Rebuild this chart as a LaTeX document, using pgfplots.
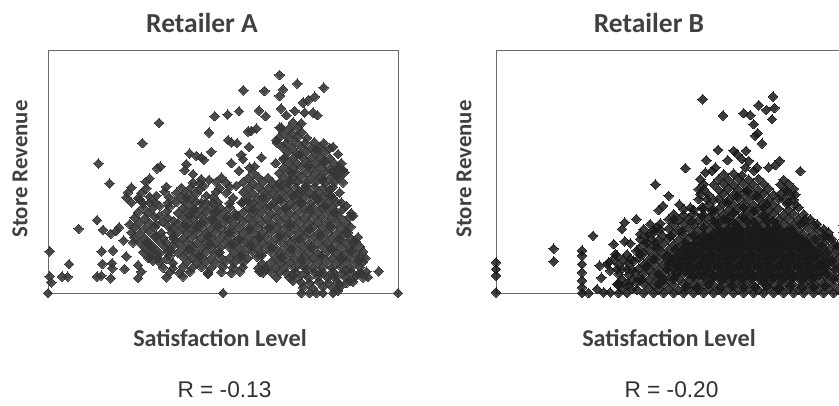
\documentclass[border=0pt]{standalone}
\usepackage{pgfplots}
\pgfplotsset{compat=1.18}
\usepackage{fontspec}
\setmainfont{Carlito}
\newfontfamily\rfont{Liberation Sans}
\definecolor{txt}{HTML}{404040}
\definecolor{rtxt}{HTML}{303030}
\definecolor{spine}{HTML}{6A6A6A}
\definecolor{dot}{HTML}{1A1818}
\definecolor{dotA}{HTML}{363636}
\pgfplotsset{
 panel/.style={scale only axis,width=350pt,height=243pt,xtick=\empty,ytick=\empty,
  y dir=reverse,ymin=32,ymax=762,clip=false,axis line style={draw=spine,line width=1pt}},
 pts/.style={only marks,mark=square*,mark size=3.35pt,
  mark options={rotate=45,fill=dot,draw=dot,line width=0pt,opacity=0.85}},
 ptsA/.style={only marks,mark=square*,mark size=3.35pt,
  mark options={rotate=45,fill=dotA,draw=dotA,line width=0pt,opacity=0.9}}
}
\begin{document}
\begin{tikzpicture}[x=1pt,y=1pt]
\path[use as bounding box,clip] (0,0) rectangle (839,405);
\node[font=\bfseries\fontsize{27.5}{31}\selectfont,text=txt] at (202,382) {Retailer A};
\node[font=\bfseries\fontsize{27.5}{31}\selectfont,text=txt] at (649,382) {Retailer B};
\node[font=\bfseries\fontsize{22.8}{26}\selectfont,text=txt,rotate=90] at (20,236) {Store Revenue};
\node[font=\bfseries\fontsize{22.8}{26}\selectfont,text=txt,rotate=90] at (464,236) {Store Revenue};
\node[font=\bfseries\fontsize{24.2}{27}\selectfont,text=txt] at (220,67) {Satisfaction Level};
\node[font=\bfseries\fontsize{24.2}{27}\selectfont,text=txt] at (669,67) {Satisfaction Level};
\node[font=\rfont\fontsize{22.7}{26}\selectfont,text=rtxt] at (224.5,15) {R = -0.13};
\node[font=\rfont\fontsize{22.7}{26}\selectfont,text=rtxt] at (671.5,15) {R = -0.20};

\begin{axis}[panel,at={(48pt,112pt)},anchor=south west,xmin=145,xmax=1195]
\addplot[ptsA] coordinates {
(145,762)(670,762)(1195,762)(905,762)(930,762)(950,762)(970,762)(1000,762)(1015,755)
(150,637)(150,712)(155,730)(187,713)(204,713)(208,675)(237,569)(292,543)(296,373)(330,433)(428,312)(478,251)
(292,713)(305,710)(333,718)(306,637)(340,635)(308,675)(337,672)(338,688)(375,690)(380,652)(372,604)(310,572)(333,584)(350,575)(358,565)
(415,717)(425,698)(415,678)(431,640)(450,655)(460,665)
(840,107)(893,133)(972,145)(731,153)(794,155)(850,150)(840,170)(910,190)(925,183)(945,172)
(645,231)(684,226)(718,216)(778,214)(798,231)(844,208)(860,228)(885,215)(915,220)(940,220)(953,228)
(628,280)(745,277)(770,268)(755,275)(840,265)(685,303)(695,310)(712,312)(748,323)(830,303)
(635,338)(725,347)(570,343)(590,350)(605,355)(612,362)(785,355)(730,360)(560,375)(695,372)(828,372)(472,388)(482,382)(765,382)(750,385)(718,395)(555,393)(1000,323)(1030,392)(1012,410)(1020,385)
(580,405)(605,420)(628,422)(450,418)(438,428)
(880,250)(905,252)
(845,265)(868,268)(895,265)
(850,280)(878,282)(906,279)
(838,295)(866,297)(894,293)(922,296)
(832,310)(860,312)(888,308)(916,311)(944,309)(972,312)
(850,325)(878,327)(906,323)(934,326)(962,324)(990,327)
(864,340)(892,342)(920,338)(948,341)(976,339)
(855,355)(880,357)(906,353)(934,356)(962,354)(990,357)
(866,370)(892,372)(920,368)(948,371)(976,369)(1004,372)
(852,385)(880,387)(906,383)(934,386)(962,384)(990,387)(1018,384)
(760,400)(838,402)(866,398)(892,401)(920,399)(948,402)(976,398)(1004,401)
(665,415)(745,417)(775,413)(805,416)(852,414)(880,417)(906,413)(934,416)(962,414)(990,417)(1018,414)
(580,430)(600,432)(650,428)(680,431)(730,429)(760,432)(790,428)(820,431)(840,429)(866,432)(892,428)(920,431)(948,429)(976,432)(1004,429)
(395,445)(440,447)(500,443)(545,446)(575,444)(660,447)(690,443)(745,446)(775,444)(805,447)(832,443)(860,446)(888,444)(916,447)(944,443)(972,446)(1000,444)
(385,460)(425,462)(495,458)(530,461)(560,459)(590,462)(650,458)(680,461)(730,459)(760,462)(790,458)(820,461)(846,459)(874,462)(902,458)(930,461)(958,459)(986,462)
(380,475)(415,477)(450,473)(510,476)(545,474)(575,477)(640,473)(700,476)(745,474)(775,477)(805,473)(832,476)(860,474)(888,477)(916,473)(944,476)(972,474)(1000,477)
(395,490)(430,492)(465,488)(505,491)(530,489)(560,492)(590,488)(620,491)(655,489)(690,492)(730,488)(760,491)(790,489)(820,492)(846,488)(874,491)(902,489)(930,492)(958,488)(986,491)(1012,489)
(430,505)(460,507)(510,503)(550,506)(578,504)(606,507)(634,503)(662,506)(690,504)(745,507)(773,503)(801,506)(829,504)(857,507)(885,503)(913,506)(941,504)(969,507)(997,503)
(415,520)(445,522)(500,518)(535,521)(563,519)(591,522)(619,518)(647,521)(675,519)(705,522)(731,518)(759,521)(787,519)(815,522)(843,518)(871,521)(899,519)(927,522)(955,518)(983,521)(1011,519)(1055,522)
(405,535)(435,537)(465,533)(505,536)(550,534)(578,537)(606,533)(634,536)(662,534)(690,537)(718,533)(745,536)(773,534)(801,537)(829,533)(857,536)(885,534)(913,537)(941,533)(969,536)(997,534)(1025,537)(1050,533)
(420,550)(450,552)(490,548)(535,551)(563,549)(591,552)(619,548)(647,551)(675,549)(703,552)(731,548)(759,551)(787,549)(815,552)(843,548)(871,551)(899,549)(927,552)(955,548)(983,551)(1011,549)(1039,552)
(405,565)(435,567)(465,563)(520,566)(550,564)(578,567)(606,563)(634,566)(662,564)(690,567)(718,563)(745,566)(773,564)(801,567)(829,563)(857,566)(885,564)(913,567)(941,563)(969,566)(997,564)(1025,567)(1053,563)
(395,580)(420,582)(450,578)(485,581)(535,579)(563,582)(591,578)(619,581)(647,579)(675,582)(703,578)(731,581)(759,579)(787,582)(815,578)(843,581)(871,579)(899,582)(927,578)(955,581)(983,579)(1011,582)(1039,578)
(405,595)(435,597)(465,593)(490,596)(520,594)(550,597)(578,593)(606,596)(634,594)(662,597)(690,593)(718,596)(745,594)(773,597)(801,593)(829,596)(857,594)(885,597)(913,593)(941,596)(969,594)(997,597)(1025,593)(1053,596)(1075,594)
(420,610)(450,612)(480,608)(535,611)(563,609)(591,612)(619,608)(647,611)(675,609)(703,612)(731,608)(759,611)(787,609)(815,612)(843,608)(871,611)(899,609)(927,612)(955,608)(983,611)(1011,609)(1039,612)(1067,608)
(435,625)(465,627)(495,623)(550,626)(578,624)(606,627)(634,623)(662,626)(690,624)(718,627)(745,623)(773,626)(801,624)(829,627)(857,623)(885,626)(913,624)(941,627)(969,623)(997,626)(1025,624)(1053,627)(1081,623)
(450,640)(480,642)(505,638)(535,641)(563,639)(591,642)(619,638)(647,641)(703,639)(731,642)(759,638)(787,641)(815,639)(843,642)(871,638)(899,641)(927,639)(955,642)(983,638)(1011,641)(1039,639)(1067,642)(1090,638)
(445,655)(475,657)(550,653)(578,656)(606,654)(634,657)(662,653)(690,656)(718,654)(745,657)(773,653)(829,656)(857,654)(885,657)(913,653)(941,656)(969,654)(997,657)(1025,653)(1053,656)(1081,654)(1097,657)
(480,670)(520,672)(563,668)(591,671)(619,669)(647,672)(675,668)(703,671)(731,669)(787,672)(815,668)(843,671)(871,669)(899,672)(927,668)(955,671)(983,669)(1011,672)(1039,668)(1067,671)(1090,669)
(490,685)(520,687)(550,683)(578,686)(606,684)(634,687)(670,683)(700,686)(730,684)(775,687)(801,683)(829,686)(857,684)(885,687)(913,683)(941,686)(969,684)(997,687)(1025,683)(1053,686)(1081,684)
(510,700)(540,702)(570,698)(625,701)(665,699)(695,702)(720,698)(790,701)(815,699)(860,702)(888,698)(916,701)(944,699)(972,702)(1000,698)(1028,701)(1056,699)(1084,702)(1100,698)(1137,697)
(500,715)(550,712)(625,705)(780,698)(830,715)(870,716)(899,713)(927,716)(955,712)(983,715)(1011,713)(1039,716)(1067,713)(1105,714)
(905,730)(930,732)(958,728)(986,731)(1014,729)(1040,732)(1060,728)
(910,745)(940,747)(970,743)(1000,746)(1020,744)
(1015,345)(1025,372)(1035,400)(1030,430)(1020,460)(1025,490)(1030,510)(1060,530)(1040,500)
(505,560)(515,580)(500,610)(515,635)(525,600)(522,545)(520,620)
(480,500)(470,470)(450,490)(420,480)(480,530)(470,555)(400,610)(390,555)(470,590)(455,625)(440,610)(470,645)(500,660)(510,650)
(612,440)(600,450)(620,470)(710,440)(725,490)(711,530)(640,490)(650,515)(605,490)(585,510)(560,475)(570,530)(606,550)(640,540)(680,535)
(745,485)(760,510)(790,475)(812,500)(840,480)(860,505)(880,470)(905,490)(930,510)(955,480)(975,500)(995,470)(1005,520)
(560,560)(590,565)(625,590)(655,560)(690,580)(720,600)(750,570)(780,595)(810,565)(840,590)(870,560)(900,600)(930,570)(960,590)(990,560)(1020,600)(1045,580)(1060,610)
(570,630)(600,650)(630,615)(660,640)(695,615)(725,650)(755,620)(785,650)(815,625)(845,655)(875,630)(905,660)(935,625)(965,650)(995,630)(1025,660)(1055,635)(1078,665)
(850,360)(875,400)(900,345)(925,380)(950,330)(975,365)(1000,395)(845,440)(870,425)(895,460)(920,440)(945,470)(970,420)(990,450)
(800,690)(840,700)(880,710)(920,690)(960,700)(1000,710)(1040,695)(1075,705)(1050,725)(1090,715)(880,725)(1020,735)
};
\end{axis}

\begin{axis}[panel,at={(496pt,112pt)},anchor=south west,xmin=167,xmax=1217]
\addplot[pts] coordinates {
(787,180)(998,172)(955,198)(978,212)(1002,206)(848,229)(910,222)(930,228)(995,240)(940,255)(952,282)(945,290)(965,313)
(833,332)(880,335)(917,335)(798,363)(862,363)(735,387)(825,385)(1080,396)(1018,365)(1005,378)(985,385)(950,385)
(890,345)(905,360)(925,365)(915,385)(940,395)(795,400)(815,395)
(645,436)(685,470)(717,496)(750,505)(668,500)(655,513)(588,540)(553,550)(545,570)(458,590)(340,629)(340,667)
(425,635)(425,650)(425,675)(425,700)(425,725)(425,745)(425,762)(167,670)(167,690)(167,710)(167,760)
(445,762)(470,750)(490,760)(510,760)(478,680)(483,716)(520,615)(553,607)(570,613)(600,585)(620,595)(588,635)(650,565)(640,605)(505,670)(530,650)(510,695)
(1210,560)(1210,580)(1210,600)(1210,620)(1210,640)(1210,660)(1210,680)(1210,700)(1210,720)(1210,740)(1210,760)
(850,405)(880,403)(905,408)
(780,420)(835,420)(865,422)(895,418)(925,421)(955,419)(1030,422)
(790,435)(820,437)(850,433)(880,436)(910,434)(940,437)(970,433)(1020,436)(1045,434)
(775,450)(835,452)(865,448)(895,451)(925,449)(955,452)(985,448)(1035,451)(1060,449)
(780,465)(805,467)(850,463)(880,466)(910,464)(940,467)(970,463)(1000,466)(1020,464)(1065,467)
(775,480)(820,482)(835,478)(865,481)(895,479)(925,482)(955,478)(985,481)(1015,479)(1060,482)
(805,495)(850,493)(880,496)(910,494)(940,497)(970,493)(1000,496)(1040,494)(1065,497)
(730,510)(760,512)(790,508)(820,511)(835,509)(865,512)(895,508)(925,511)(955,509)(985,512)(1015,508)(1045,511)
(700,525)(730,527)(760,523)(790,526)(820,524)(850,527)(880,523)(910,526)(940,524)(970,527)(1000,523)(1030,526)(1060,524)
(685,540)(715,542)(745,538)(775,541)(805,539)(835,542)(865,538)(895,541)(925,539)(955,542)(985,538)(1015,541)(1045,539)(1075,542)(1095,540)
(630,555)(660,553)(700,557)(730,553)(760,556)(790,554)(820,557)(850,553)(880,556)(910,554)(940,557)(970,553)(1000,556)(1030,554)(1060,557)(1090,553)(1120,556)(1150,570)
(610,570)(640,572)(685,568)(715,571)(745,569)(775,572)(805,568)(835,571)(865,569)(895,572)(925,568)(955,571)(985,569)(1015,572)(1045,568)(1075,571)(1105,569)(1135,572)(1165,580)
(625,585)(665,587)(700,583)(730,586)(760,584)(790,587)(820,583)(850,586)(880,584)(910,587)(940,583)(970,586)(1000,584)(1030,587)(1060,583)(1090,586)(1120,584)(1150,587)
(600,600)(655,602)(685,598)(715,601)(745,599)(775,602)(805,598)(835,601)(865,599)(895,602)(925,598)(955,601)(985,599)(1015,602)(1045,598)(1075,601)(1105,599)(1135,602)(1165,598)
(610,615)(640,617)(670,613)(700,616)(730,614)(760,617)(790,613)(820,616)(850,614)(880,617)(910,613)(940,616)(970,614)(1000,617)(1030,613)(1060,616)(1090,614)(1120,617)(1150,613)(1180,616)
(595,630)(625,632)(655,628)(685,631)(715,629)(745,632)(775,628)(805,631)(835,629)(865,632)(895,628)(925,631)(955,629)(985,632)(1015,628)(1045,631)(1075,629)(1105,632)(1135,628)(1165,631)(1190,629)
(525,645)(560,647)(610,643)(640,646)(670,644)(700,647)(730,643)(760,646)(790,644)(820,647)(850,643)(880,646)(910,644)(940,647)(970,643)(1000,646)(1030,644)(1060,647)(1090,643)(1120,646)(1150,644)(1180,647)
(520,660)(550,662)(595,658)(625,661)(655,659)(685,662)(715,658)(745,661)(775,659)(805,662)(835,658)(865,661)(895,659)(925,662)(955,658)(985,661)(1015,659)(1045,662)(1075,658)(1105,661)(1135,659)(1165,662)(1195,658)
(500,675)(535,677)(565,673)(610,676)(640,674)(670,677)(700,673)(730,676)(760,674)(790,677)(820,673)(850,676)(880,674)(910,677)(940,673)(970,676)(1000,674)(1030,677)(1060,673)(1090,676)(1120,674)(1150,677)(1180,673)
(545,690)(575,692)(595,688)(625,691)(655,689)(685,692)(715,688)(745,691)(775,689)(805,692)(835,688)(865,691)(895,689)(925,692)(955,688)(985,691)(1015,689)(1045,692)(1075,688)(1105,691)(1135,689)(1165,692)(1195,688)
(535,705)(565,707)(610,703)(640,706)(670,704)(700,707)(730,703)(760,706)(790,704)(820,707)(850,703)(880,706)(910,704)(940,707)(970,703)(1000,706)(1030,704)(1060,707)(1090,703)(1120,706)(1150,704)(1180,707)
(545,720)(575,722)(595,718)(625,721)(655,719)(685,722)(715,718)(745,721)(775,719)(805,722)(835,718)(865,721)(895,719)(925,722)(955,718)(985,721)(1015,719)(1045,722)(1075,718)(1105,721)(1135,719)(1165,722)(1195,718)
(535,735)(565,737)(610,733)(640,736)(670,734)(700,737)(730,733)(760,736)(790,734)(820,737)(850,733)(880,736)(910,734)(940,737)(970,733)(1000,736)(1030,734)(1060,737)(1090,733)(1120,736)(1150,734)(1180,737)
(545,750)(590,752)(625,748)(655,751)(685,749)(715,752)(745,748)(775,751)(805,749)(835,752)(865,748)(895,751)(925,749)(955,752)(985,748)(1015,751)(1045,749)(1075,752)(1105,748)(1135,751)(1165,749)(1195,752)
(535,762)(560,762)(610,762)(640,762)(670,762)(700,762)(730,762)(760,762)(790,762)(820,762)(850,762)(880,762)(910,762)(940,762)(970,762)(1000,762)(1030,762)(1060,762)(1090,762)(1120,762)(1150,762)(1180,762)
(835,570)(865,572)(895,568)(925,571)(955,569)(985,572)(1015,568)
(790,585)(820,587)(850,583)(880,586)(910,584)(940,587)(970,583)(1000,586)(1030,584)(1060,587)
(775,600)(805,602)(835,598)(865,601)(895,599)(925,602)(955,598)(985,601)(1015,599)(1045,602)(1075,598)
(760,615)(790,617)(820,613)(850,616)(880,614)(910,617)(940,613)(970,616)(1000,614)(1030,617)(1060,613)(1090,616)
(730,630)(760,632)(790,628)(820,631)(850,629)(880,632)(910,628)(940,631)(970,629)(1000,632)(1030,628)(1060,631)(1090,629)(1120,632)
(715,645)(745,647)(775,643)(805,646)(835,644)(865,647)(895,643)(925,646)(955,644)(985,647)(1015,643)(1045,646)(1075,644)(1105,647)(1135,643)
(700,660)(730,662)(760,658)(790,661)(820,659)(850,662)(880,658)(910,661)(940,659)(970,662)(1000,658)(1030,661)(1060,659)(1090,662)(1120,658)(1150,661)
(685,675)(715,677)(745,673)(775,676)(805,674)(835,677)(865,673)(895,676)(925,674)(955,677)(985,673)(1015,676)(1045,674)(1075,677)(1105,673)(1135,676)(1165,674)
(700,690)(730,692)(760,688)(790,691)(820,689)(850,692)(880,688)(910,691)(940,689)(970,692)(1000,688)(1030,691)(1060,689)(1090,692)(1120,688)(1150,691)
(745,705)(775,707)(805,703)(835,706)(865,704)(895,707)(925,703)(955,706)(985,704)(1015,707)(1045,703)(1075,706)(1105,704)(1135,707)
(815,720)(845,722)(875,718)(905,721)(935,719)(965,722)(995,718)(1025,721)(1055,719)(1085,722)(1115,718)
(850,540)(880,550)(910,535)(940,548)(970,532)(1000,545)(880,520)(910,505)(940,515)(970,505)(860,490)(890,470)(920,455)(950,470)(980,495)
(1050,470)(1040,455)(1030,480)(790,450)(800,480)(785,505)(1045,490)(1075,505)(1090,525)(1110,540)(1130,555)(1155,590)(1175,600)(1190,620)
(640,580)(620,610)(600,645)(580,665)(585,700)(555,735)(590,730)(575,750)(605,720)(560,690)(530,690)(530,735)(570,660)
(700,540)(660,570)(690,590)(650,625)(680,650)(640,660)(620,680)(655,705)(700,720)(655,735)(680,690)(725,575)(755,545)(785,530)(815,515)
(820,545)(790,565)(760,590)(735,610)(705,630)(690,670)(670,720)(710,705)(735,745)(770,745)(805,735)(840,745)(875,740)(910,745)(945,745)(980,740)(1015,745)(1050,740)(1085,745)(1120,745)(1155,740)
(1125,600)(1145,620)(1160,640)(1175,665)(1185,690)(1180,720)(1160,705)(1145,680)(1125,650)(1105,620)(1085,600)(1055,570)(1080,555)
(830,555)(860,540)(890,560)(920,545)(950,560)(980,545)(1010,560)(1040,575)(1070,590)(1100,610)
(845,578)(875,578)(905,578)(935,578)(965,578)(995,578)(810,593)(840,593)(870,593)(900,593)(930,593)(960,593)(990,593)(1020,593)(1050,593)
(790,608)(820,608)(850,608)(880,608)(910,608)(940,608)(970,608)(1000,608)(1030,608)(1060,608)
(745,622)(775,622)(805,622)(835,622)(865,622)(895,622)(925,622)(955,622)(985,622)(1015,622)(1045,622)(1075,622)(1105,622)
(730,652)(760,652)(790,652)(820,652)(850,652)(880,652)(910,652)(940,652)(970,652)(1000,652)(1030,652)(1060,652)(1090,652)(1120,652)
(715,682)(745,682)(775,682)(805,682)(835,682)(865,682)(895,682)(925,682)(955,682)(985,682)(1015,682)(1045,682)(1075,682)(1105,682)(1135,682)
(760,712)(790,712)(820,712)(850,712)(880,712)(910,712)(940,712)(970,712)(1000,712)(1030,712)(1060,712)(1090,712)(1120,712)
};
\end{axis}
\end{tikzpicture}
\end{document}
